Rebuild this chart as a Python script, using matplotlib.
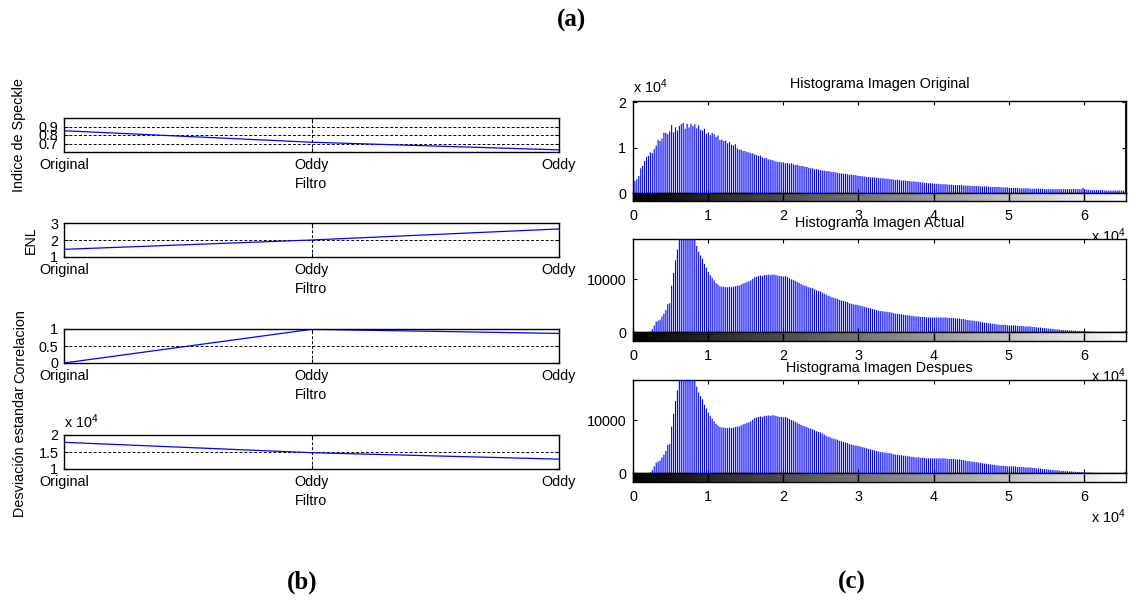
import numpy as np
import matplotlib
matplotlib.use("Agg")
import matplotlib.pyplot as plt
from matplotlib.transforms import offset_copy

# ---------------------------------------------------------------- data
filtros = ["Original", "Oddy", "Oddy"]
indice_speckle = [0.85, 0.715, 0.625]
enl = [1.45, 2.0, 2.65]
correlacion = [0.0, 0.99, 0.87]
desviacion = [17850, 14800, 12900]

# imhist counts (256 bins over 0..65535)
hist_original = [
    1600, 2700, 3100, 3800, 5500, 6000, 7100, 8000, 8200, 9000,
    8800, 9700, 10500, 11700, 11500, 12000, 13300, 13300, 13000, 13600,
    15000, 13400, 14500, 13800, 14800, 15200, 15500, 14200, 15300, 14500,
    15300, 14800, 15200, 14300, 15000, 14000, 13800, 14200, 13100, 13400,
    12800, 13300, 13000, 12400, 12700, 11700, 11800, 11500, 11600, 11000,
    11300, 10700, 10500, 10800, 9900, 9600, 9600, 9300, 9300, 9100,
    9000, 8800, 8800, 8500, 8400, 8200, 8300, 7900, 7700, 7800,
    7500, 7400, 7300, 7200, 7000, 6900, 6900, 6800, 6800, 6600,
    6700, 6500, 6600, 6400, 6200, 6300, 6100, 6000, 6000, 5800,
    5800, 5600, 5500, 5500, 5300, 5300, 5200, 5100, 5000, 5000,
    4900, 4900, 4800, 4700, 4700, 4600, 4500, 4400, 4400, 4300,
    4300, 4200, 4100, 4100, 4000, 4000, 3900, 3800, 3800, 3700,
    3700, 3600, 3600, 3500, 3500, 3500, 3400, 3400, 3300, 3300,
    3300, 3200, 3200, 3100, 3100, 3000, 2900, 3000, 2900, 2800,
    2800, 2800, 2700, 2700, 2600, 2600, 2600, 2500, 2500, 2400,
    2400, 2300, 2300, 2200, 2200, 2200, 2100, 2100, 2100, 2000,
    2000, 2000, 2000, 1900, 1900, 1900, 1800, 1800, 1800, 1800,
    1800, 1700, 1700, 1700, 1700, 1600, 1600, 1600, 1600, 1600,
    1500, 1500, 1500, 1500, 1500, 1400, 1400, 1400, 1400, 1400,
    1400, 1300, 1300, 1300, 1300, 1200, 1200, 1200, 1200, 1200,
    1100, 1100, 1100, 1100, 1100, 1100, 1000, 1000, 1000, 1000,
    1000, 1000, 1000, 900, 900, 900, 900, 900, 900, 900,
    900, 900, 900, 900, 900, 900, 900, 900, 900, 900,
    900, 900, 900, 1200, 900, 800, 800, 700, 700, 700,
    700, 700, 700, 700, 600, 600, 600, 600, 600, 600,
    600, 600, 600, 600, 600, 21000,
]

hist_actual = [
    0, 0, 0, 0, 0, 0, 0, 0, 0, 150,
    600, 1300, 2000, 2200, 2400, 3000, 3500, 4200, 5300, 5500,
    8800, 11200, 13600, 15600, 17800, 19500, 20500, 21000, 20800, 20200,
    19500, 18400, 17700, 16300, 15200, 14500, 13900, 12900, 12200, 11400,
    10800, 10300, 9800, 9300, 9000, 8700, 8600, 8600, 8500, 8500,
    8600, 8500, 8600, 8700, 8800, 8800, 9000, 9200, 9300, 9500,
    9600, 9800, 10100, 10400, 10500, 10600, 10700, 10600, 10800, 10800,
    10900, 10800, 10900, 10900, 10800, 10700, 10600, 10600, 10500, 10600,
    10400, 10200, 10000, 9900, 9700, 9500, 9300, 9100, 8900, 8800,
    8700, 8500, 8400, 8300, 8100, 7900, 7800, 7700, 7500, 7300,
    7100, 6900, 6800, 6600, 6500, 6400, 6300, 6100, 6000, 5900,
    5800, 5700, 5500, 5400, 5300, 5200, 5200, 5100, 5000, 4900,
    4800, 4700, 4600, 4500, 4400, 4300, 4200, 4100, 4000, 4000,
    3900, 3900, 3800, 3800, 3700, 3600, 3500, 3500, 3400, 3400,
    3300, 3300, 3200, 3200, 3100, 3100, 3000, 3000, 3000, 2900,
    2900, 2900, 2800, 2800, 2800, 2800, 2800, 2800, 2800, 2800,
    2800, 2800, 2800, 2700, 2700, 2700, 2700, 2600, 2600, 2600,
    2500, 2500, 2400, 2300, 2300, 2200, 2200, 2100, 2100, 2000,
    2000, 1900, 1800, 1800, 1700, 1700, 1600, 1600, 1500, 1500,
    1400, 1400, 1400, 1400, 1300, 1300, 1300, 1300, 1300, 1200,
    1200, 1200, 1200, 1100, 1100, 1100, 1100, 1000, 1000, 900,
    900, 900, 800, 800, 750, 700, 700, 650, 600, 550,
    550, 500, 450, 450, 400, 400, 350, 350, 300, 300,
    250, 250, 250, 200, 200, 150, 150, 100, 100, 80,
    0, 0, 0, 0, 0, 0, 0, 0, 0, 0,
    0, 0, 0, 0, 0, 300,
]
hist_despues = list(hist_actual)

hist_titles = ["Histograma Imagen Original", "Histograma Imagen Actual",
               "Histograma Imagen Despues"]

# ---------------------------------------------------------------- style
plt.rcParams["font.family"] = ["Liberation Sans", "DejaVu Sans"]
plt.rcParams["font.size"] = 10.4
plt.rcParams["mathtext.fontset"] = "custom"
plt.rcParams["mathtext.rm"] = "Liberation Sans"
plt.rcParams["mathtext.it"] = "Liberation Sans"

W, H = 1136, 604
fig = plt.figure(figsize=(W / 100, H / 100), dpi=100)


def box(left, top, right, bottom):
    return [left / W, 1 - bottom / H, (right - left) / W, (bottom - top) / H]


GRID = dict(color="k", linestyle=(0, (3, 2)), linewidth=0.7)
FS = 10.4

# ---------------------------------------------------------------- (b)
left_panels = [
    (indice_speckle, (0.6, 1.0), [0.7, 0.8, 0.9], ["0.7", "0.8", "0.9"],
     "Indice de Speckle", 19, (118, 152), False),
    (enl, (1, 3), [1, 2, 3], ["1", "2", "3"], "ENL", 31, (223, 257), False),
    (correlacion, (0, 1), [0, 0.5, 1], ["0", "0.5", "1"], "Correlacion",
     20, (329, 363), False),
    (desviacion, (10000, 20000), [10000, 15000, 20000], ["1", "1.5", "2"],
     "Desviación estandar", 20, (435, 469), True),
]

xpos = np.arange(1, len(filtros) + 1)
for vals, ylim, yt, ytl, ylab, lx, (t, b), offset in left_panels:
    ax = fig.add_axes(box(64, t, 559, b))
    ax.plot(xpos, vals, color="b", linewidth=0.9)
    ax.set_xlim(xpos[0], xpos[-1])
    ax.set_ylim(*ylim)
    ax.set_xticks(xpos)
    ax.set_xticklabels(filtros)
    ax.set_yticks(yt)
    ax.set_yticklabels(ytl)
    ax.grid(True, **GRID)
    ax.tick_params(direction="in", length=3, width=0.8, top=True, right=True,
                   pad=4, labelsize=FS)
    for s in ax.spines.values():
        s.set_linewidth(1.0)
    ax.set_xlabel("Filtro", labelpad=4, fontsize=FS)
    fig.text(lx / W, 1 - (t + b) / 2 / H, ylab, rotation=90,
             ha="center", va="center", fontsize=FS)
    if offset:
        ax.text(0, 1.2, "x 10$^4$", transform=ax.transAxes,
                ha="left", va="baseline", fontsize=FS)

# ---------------------------------------------------------------- (c)
centers = np.linspace(0, 65535, 256)
gradient = np.linspace(0, 1, 256)[None, :]
hist_specs = [
    (hist_original, (101, 193.3, 200.7), 20300, [0, 10000, 20000],
     ["0", "1", "2"], True, 84),
    (hist_actual, (239.3, 332.3, 341), 17550, [0, 10000],
     ["0", "10000"], False, 223),
    (hist_despues, (380, 473.3, 481.7), 17550, [0, 10000],
     ["0", "10000"], False, 368),
]
xt = np.arange(0, 60001, 10000)
XMAX = 65600

for (counts, (t, m, b), ytop, yt, ytl, yoff, ty), title in zip(hist_specs, hist_titles):
    ax = fig.add_axes(box(633, t, 1126, m))
    ax.vlines(centers, 0, counts, color="b", linewidth=0.8, zorder=3,
              snap=False)
    ax.set_xlim(0, XMAX)
    ax.set_ylim(0, ytop)
    ax.set_xticks(xt)
    ax.set_xticklabels([])
    ax.set_yticks(yt)
    ax.set_yticklabels(ytl)
    ax.tick_params(direction="in", length=3, width=0.8, top=True, right=True,
                   pad=5, labelsize=FS)
    for s in ax.spines.values():
        s.set_linewidth(1.0)
    if yoff:
        ax.text(0, 1.087, "x 10$^4$", transform=ax.transAxes,
                ha="left", va="baseline", fontsize=FS)
    fig.text(879.5 / W, 1 - ty / H, title, ha="center", va="center",
             fontsize=FS)

    cax = fig.add_axes(box(633, m, 1126, b))
    cax.imshow(gradient, aspect="auto", cmap="gray",
               extent=[0, 65535, 0, 1], interpolation="bilinear")
    cax.set_xlim(0, XMAX)
    cax.set_yticks([])
    cax.set_xticks(xt)
    cax.set_xticklabels([str(v // 10000) for v in xt])
    cax.tick_params(direction="in", length=5.5, width=1.0, pad=6,
                    labelsize=FS)
    for s in cax.spines.values():
        s.set_linewidth(1.0)
    tr = offset_copy(cax.transAxes, fig=fig, x=0, y=-41 * 0.72, units="points")
    cax.text(1.0, 0, "x 10$^4$", transform=tr, ha="right", va="baseline",
             fontsize=FS, clip_on=False)

# ---------------------------------------------------------------- panel tags
for label, x, y in [("(a)", 572, 20), ("(b)", 302, 582), ("(c)", 852, 582)]:
    fig.text(x / W, 1 - y / H, label, ha="center", va="center",
             fontfamily="Liberation Serif", fontweight="bold", fontsize=18)

fig.savefig("out.png", dpi=100)
